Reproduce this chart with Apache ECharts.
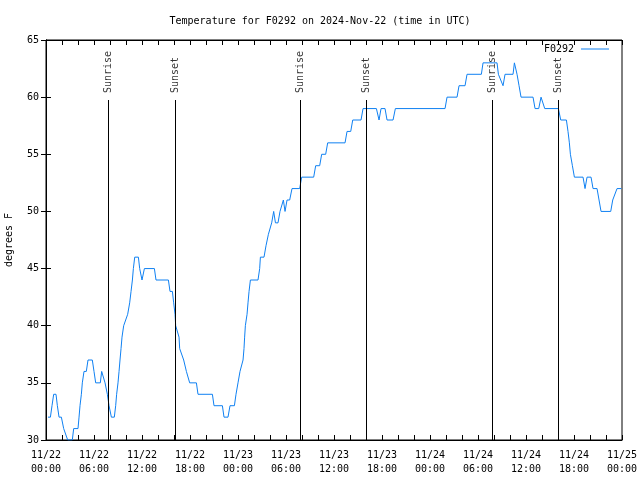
<!DOCTYPE html>
<html>
<head>
<meta charset="utf-8">
<script src="https://cdn.jsdelivr.net/npm/echarts@6/dist/echarts.min.js"></script>
<style>html,body{margin:0;padding:0;background:#fff}#c{width:640px;height:480px}</style>
</head>
<body>
<div id="c"></div>
<script>
// hours since 2024-11-22 00:00 UTC
const hours = [0.25,0.55,0.75,0.96,1.25,1.42,1.63,1.92,2.21,2.46,2.71,3.29,3.46,4.0,4.13,4.25,4.42,4.54,4.75,5.04,5.25,5.79,6.0,6.21,6.79,6.96,7.21,7.38,7.67,7.88,8.17,8.54,8.71,8.83,9.0,9.13,9.25,9.38,9.5,9.71,9.96,10.21,10.46,10.63,10.8,10.92,11.09,11.55,11.71,12.0,12.3,13.55,13.75,15.3,15.5,15.8,15.96,16.13,16.21,16.46,16.63,16.71,16.96,17.21,17.55,17.75,17.96,18.8,19.0,20.8,21.0,22.05,22.25,22.75,23.0,23.55,23.75,24.0,24.25,24.42,24.63,24.75,24.83,24.92,25.13,25.25,25.38,25.55,26.5,26.71,26.8,27.25,27.5,27.8,28.05,28.21,28.46,28.68,29.0,29.25,29.42,29.67,29.88,30.13,30.46,30.75,31.71,31.96,33.46,33.71,34.21,34.46,34.96,35.21,37.38,37.63,38.09,38.34,39.38,39.63,41.3,41.63,41.88,42.38,42.63,43.38,43.67,49.88,50.13,51.38,51.63,52.38,52.63,54.42,54.63,56.38,56.55,57.13,57.38,58.38,58.55,58.63,58.88,59.13,59.38,60.88,61.13,61.59,61.88,62.05,62.34,64.05,64.34,65.05,65.25,65.42,65.55,65.8,66.05,67.13,67.38,67.63,68.13,68.38,68.88,69.13,69.38,70.59,70.84,71.09,71.38,71.92];
const temps = [32,32,33,34,34,33,32,32,31,31,30,30,31,31,32,33,34,35,36,36,37,37,36,35,35,36,36,35,34,33,32,32,33,34,35,36,37,38,39,40,40,41,42,43,44,45,46,46,45,44,45,45,44,44,43,43,42,41,40,40,39,38,38,37,36,36,35,35,34,34,33,33,32,32,33,33,34,35,36,36,37,38,39,40,41,42,43,44,44,45,46,46,47,48,48,49,50,49,49,50,50,51,50,51,51,52,52,53,53,54,54,55,55,56,56,57,57,58,58,59,59,58,59,59,58,58,59,59,60,60,61,61,62,62,63,63,62,61,62,62,63,63,62,61,60,60,59,59,60,60,59,59,58,58,57,56,55,54,53,53,52,53,53,52,52,51,50,50,51,51,52,52];
const xTickLabels = ['11/22\n00:00','11/22\n06:00','11/22\n12:00','11/22\n18:00','11/23\n00:00','11/23\n06:00','11/23\n12:00','11/23\n18:00','11/24\n00:00','11/24\n06:00','11/24\n12:00','11/24\n18:00','11/25\n00:00'];
const eventNames = ['Sunrise','Sunset','Sunrise','Sunset','Sunrise','Sunset'];
const eventHours = [7.75,16.12,31.75,40.0,55.75,64.0];
const eventTop = 59.75;

const font = 'DejaVu Sans Mono';
const lineColor = '#0f80f2';
const chart = echarts.init(document.getElementById('c'), null, {renderer:'canvas'});
const tickCommon = {show:true, inside:true, length:5, lineStyle:{color:'#000', width:1}};
const xBase = {
  type:'value', min:0, max:72, interval:6,
  axisLine:{show:true, lineStyle:{color:'#000', width:1}},
  axisTick: tickCommon,
  minorTick:{show:true, splitNumber:3, length:5, lineStyle:{color:'#000', width:1}},
  splitLine:{show:false}
};
const yBase = {
  type:'value', min:30, max:65, interval:5,
  axisLine:{show:true, lineStyle:{color:'#000', width:1}},
  axisTick: tickCommon,
  splitLine:{show:false}
};
chart.setOption({
  animation:false,
  backgroundColor:'#fff',
  title:{text:'Temperature for F0292 on 2024-Nov-22 (time in UTC)', left:'center', top:11,
    textStyle:{fontFamily:font, fontSize:10, fontWeight:'normal', color:'#000'}},
  legend:{data:[{name:'F0292', icon:'path://M0,0L28,0L28,1L0,1Z'}], right:31, top:44, padding:0, align:'right', itemWidth:28, itemHeight:1,
    textStyle:{fontFamily:font, fontSize:10, color:'#000', padding:[0,2,0,0]}},
  grid:{left:46, right:18, top:40, bottom:40, show:true, borderColor:'#000', borderWidth:1, containLabel:false, outerBoundsMode:'none'},
  xAxis:[
    Object.assign({}, xBase, {position:'bottom',
      axisLabel:{show:true, fontFamily:font, fontSize:10, color:'#000', margin:8, lineHeight:14,
        formatter:v=>xTickLabels[Math.round(v/6)]}}),
    Object.assign({}, xBase, {position:'top', axisLabel:{show:false}})
  ],
  yAxis:[
    Object.assign({}, yBase, {position:'left', name:'degrees F', nameLocation:'middle', nameGap:32, nameRotate:90,
      nameTextStyle:{fontFamily:font, fontSize:10, color:'#000'},
      axisLabel:{show:true, fontFamily:font, fontSize:10, color:'#000', margin:7}}),
    Object.assign({}, yBase, {position:'right', axisLabel:{show:false}})
  ],
  series:[
    {name:'F0292', type:'line', xAxisIndex:0, yAxisIndex:0, symbol:'none', showSymbol:false,
      lineStyle:{color:lineColor, width:1}, itemStyle:{color:lineColor},
      data:hours.map((h,i)=>[h,temps[i]]),
      markLine:{silent:true, symbol:'none', animation:false,
        lineStyle:{color:'#000', width:1, type:'solid'}, label:{show:false},
        data:eventHours.map(h=>[{coord:[h,30]},{coord:[h,eventTop]}])}
    },
    {name:'events', type:'scatter', xAxisIndex:0, yAxisIndex:0, symbolSize:0, silent:true,
      data:eventHours.map((h,i)=>({value:[h,eventTop], name:eventNames[i]})),
      label:{show:true, formatter:p=>p.name, position:'top', distance:7, rotate:90, align:'left', verticalAlign:'middle',
        fontFamily:font, fontSize:10, color:'#000'}
    }
  ]
});
</script>
</body>
</html>
